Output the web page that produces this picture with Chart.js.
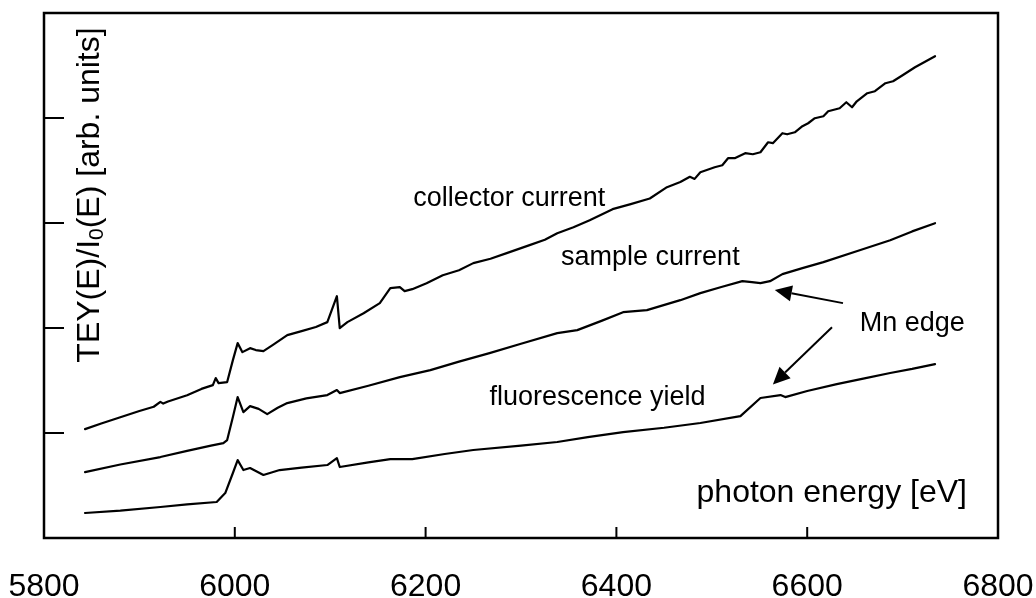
<!DOCTYPE html>
<html><head><meta charset="utf-8">
<script src="https://cdn.jsdelivr.net/npm/chart.js@4.4.0/dist/chart.umd.min.js"></script>
<style>html,body{margin:0;padding:0;background:#fff;} #wrap{width:1036px;height:598px;}</style>
</head><body><div id="wrap"><canvas id="c" width="1036" height="598"></canvas></div>
<script>
// ---- data ----
const collectorE = [5843,5860,5880,5900,5915,5922,5925,5930,5950,5965,
  5977,5980,5983,5992,5998,6003,6008,6016,6022,6030,
  6040,6055,6070,6085,6097,6107,6110,6118,6135,6152,
  6163,6173,6178,6186,6201,6218,6235,6250,6268,6285,
  6309,6325,6338,6355,6372,6396,6415,6435,6453,6467,
  6477,6482,6488,6503,6511,6517,6524,6535,6543,6551,
  6559,6564,6574,6579,6587,6595,6601,6608,6617,6622,
  6634,6641,6647,6652,6663,6671,6682,6690,6700,6713,
  6734];
const collectorV = [1.037,1.09,1.15,1.21,1.25,1.297,1.28,1.30,1.36,1.42,
  1.456,1.523,1.475,1.485,1.694,1.856,1.770,1.808,1.79,1.780,
  1.84,1.932,1.97,2.01,2.056,2.303,1.999,2.056,2.14,2.237,
  2.380,2.389,2.351,2.37,2.427,2.503,2.55,2.618,2.66,2.713,
  2.789,2.84,2.903,2.96,3.027,3.132,3.18,3.233,3.341,3.39,
  3.44,3.42,3.484,3.531,3.550,3.617,3.617,3.665,3.655,3.674,
  3.769,3.760,3.855,3.845,3.864,3.922,3.950,3.998,4.017,4.064,
  4.093,4.150,4.102,4.159,4.236,4.255,4.331,4.350,4.407,4.483,
  4.588];

const sampleE = [5843,5880,5922,5950,5975,5988,5992,5998,6003,6009,
  6016,6025,6034,6045,6055,6075,6097,6107,6110,6140,
  6173,6205,6235,6267,6300,6338,6359,6385,6407,6432,
  6467,6488,6510,6532,6542,6551,6561,6574,6595,6617,
  6655,6687,6710,6734];
const sampleV = [0.628,0.70,0.771,0.83,0.88,0.904,0.933,1.152,1.342,1.199,
  1.256,1.23,1.180,1.24,1.285,1.33,1.361,1.409,1.380,1.45,
  1.532,1.599,1.68,1.761,1.85,1.951,1.98,2.07,2.151,2.170,
  2.265,2.332,2.39,2.446,2.437,2.427,2.446,2.513,2.57,2.627,
  2.741,2.836,2.92,2.998];

const fluoE = [5843,5880,5922,5950,5981,5990,5998,6003,6009,6016,
  6030,6047,6070,6097,6107,6110,6140,6163,6186,6220,
  6250,6300,6338,6370,6407,6450,6488,6530,6551,6572,
  6577,6600,6631,6660,6687,6710,6734];
const fluoV = [0.238,0.26,0.295,0.32,0.343,0.428,0.619,0.742,0.647,0.666,
  0.600,0.647,0.67,0.695,0.761,0.676,0.72,0.752,0.752,0.80,
  0.838,0.88,0.914,0.96,1.009,1.05,1.095,1.161,1.333,1.361,
  1.342,1.40,1.466,1.52,1.571,1.61,1.656];

const xTickValues = [5800,6000,6200,6400,6600,6800];
const yTickValues = [1,2,3,4];

const seriesLabels = ['collector current','sample current','fluorescence yield'];

// ---- helpers ----
const FONT = '"Liberation Sans", Arial, Helvetica, sans-serif';
const toPts = (E, V) => E.map((e, i) => ({x: e, y: V[i]}));

function arrow(ctx, x1, y1, x2, y2) {
  const ang = Math.atan2(y2 - y1, x2 - x1), L = 17, W = 8;
  const bx = x2 - L * Math.cos(ang), by = y2 - L * Math.sin(ang);
  ctx.beginPath(); ctx.moveTo(x1, y1); ctx.lineTo(bx, by); ctx.stroke();
  ctx.beginPath(); ctx.moveTo(x2, y2);
  ctx.lineTo(bx + W * Math.sin(ang), by - W * Math.cos(ang));
  ctx.lineTo(bx - W * Math.sin(ang), by + W * Math.cos(ang));
  ctx.closePath(); ctx.fill();
}

const framePlugin = {
  id: 'frame',
  afterDatasetsDraw(chart) {
    const {ctx, chartArea: a, scales: {x, y}} = chart;
    ctx.save();
    ctx.strokeStyle = '#000'; ctx.fillStyle = '#000';
    ctx.lineWidth = 2.5;
    ctx.strokeRect(a.left, a.top, a.right - a.left, a.bottom - a.top);
    ctx.lineWidth = 2;
    ctx.beginPath();
    xTickValues.slice(1, -1).forEach(v => {
      const px = x.getPixelForValue(v);
      ctx.moveTo(px, a.bottom); ctx.lineTo(px, a.bottom - 11);
    });
    yTickValues.forEach(v => {
      const py = y.getPixelForValue(v);
      ctx.moveTo(a.left, py); ctx.lineTo(a.left + 20, py);
    });
    ctx.stroke();

    // annotations
    ctx.textBaseline = 'middle'; ctx.textAlign = 'left';
    ctx.font = '27px ' + FONT;
    const lab = (t, e, v) => ctx.fillText(t, x.getPixelForValue(e), y.getPixelForValue(v));
    lab(seriesLabels[0], 6187, 3.236);
    lab(seriesLabels[1], 6342, 2.675);
    lab(seriesLabels[2], 6267, 1.333);
    lab('Mn edge', 6655, 2.046);
    ctx.font = '32px ' + FONT;
    lab('photon energy [eV]', 6484, 0.428);

    // arrows
    ctx.lineWidth = 2;
    arrow(ctx, x.getPixelForValue(6637.5), y.getPixelForValue(2.237),
               x.getPixelForValue(6566), y.getPixelForValue(2.361));
    arrow(ctx, x.getPixelForValue(6626), y.getPixelForValue(2.008),
               x.getPixelForValue(6564), y.getPixelForValue(1.463));

    // y-axis title (inside the frame)
    ctx.translate(a.left + 46, 195);
    ctx.rotate(-Math.PI / 2);
    const big = '32px ' + FONT, small = '21px ' + FONT;
    const p1 = 'TEY(E)/I', p2 = '0', p3 = '(E) [arb. units]';
    ctx.font = big; const w1 = ctx.measureText(p1).width, w3 = ctx.measureText(p3).width;
    ctx.font = small; const w2 = ctx.measureText(p2).width;
    let sx = -(w1 + w2 + w3) / 2;
    ctx.font = big; ctx.fillText(p1, sx, 0); sx += w1;
    ctx.font = small; ctx.fillText(p2, sx, 7); sx += w2;
    ctx.font = big; ctx.fillText(p3, sx, 0);
    ctx.restore();
  }
};

const ds = (E, V, label) => ({
  label, data: toPts(E, V), borderColor: '#000', borderWidth: 2.2,
  borderJoinStyle: 'round', borderCapStyle: 'round',
  pointRadius: 0, tension: 0, fill: false
});

new Chart(document.getElementById('c'), {
  type: 'line',
  data: { datasets: [
    ds(collectorE, collectorV, seriesLabels[0]),
    ds(sampleE, sampleV, seriesLabels[1]),
    ds(fluoE, fluoV, seriesLabels[2])
  ]},
  options: {
    responsive: false, animation: false, devicePixelRatio: 1,
    layout: { padding: 0 },
    plugins: { legend: { display: false }, tooltip: { enabled: false } },
    scales: {
      x: {
        type: 'linear', min: 5800, max: 6800,
        afterBuildTicks: s => { s.ticks = xTickValues.map(v => ({value: v})); },
        afterFit: s => {
          s.height = 60;
          s.paddingLeft = 44; s.paddingRight = 38;
          s.paddingTop = 13; s.paddingBottom = 0;
        },
        grid: { drawOnChartArea: false, drawTicks: false },
        border: { display: false },
        ticks: { color: '#000', font: { size: 32, family: FONT }, padding: 30,
                 maxRotation: 0, autoSkip: false, callback: v => String(v) }
      },
      y: { type: 'linear', min: 0, max: 5, display: false }
    }
  },
  plugins: [framePlugin]
});
</script></body></html>
